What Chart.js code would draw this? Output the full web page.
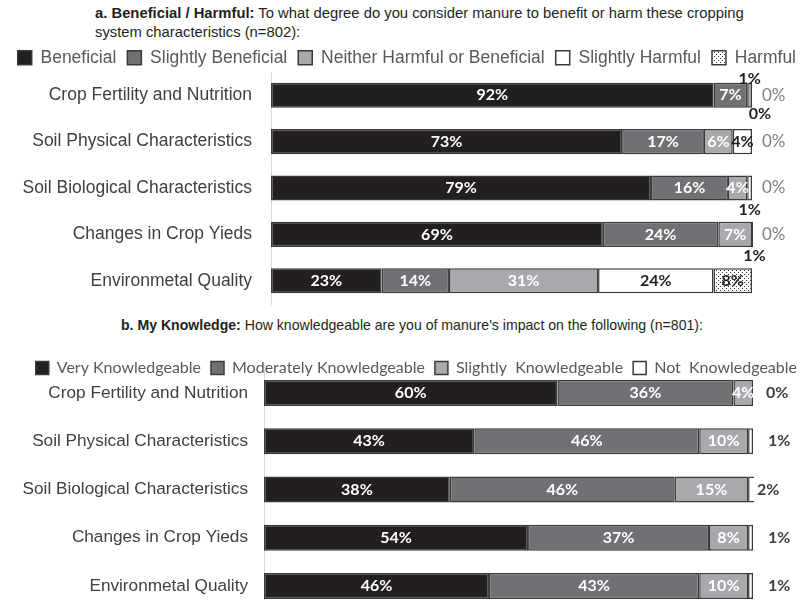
<!DOCTYPE html>
<html>
<head>
<meta charset="utf-8">
<script src="https://cdn.jsdelivr.net/npm/chart.js@4"></script>
<style>
html, body { margin: 0; padding: 0; background: #fff; }
body { width: 807px; height: 600px; overflow: hidden; position: relative; font-family: 'Liberation Sans', Arial, sans-serif; color: #231f20; }
.title { position: absolute; line-height: 19px; white-space: nowrap; }
#titleA { left: 95px; top: 4px; font-size: 14.8px; }
#titleB { left: 121px; top: 316px; font-size: 14.1px; }
#boxA { position: absolute; left: 0; top: 38px; width: 807px; height: 270px; }
#boxB { position: absolute; left: 0; top: 350px; width: 807px; height: 262px; }
canvas { display: block; }
</style>
</head>
<body>
<div class="title" id="titleA"><b>a. Beneficial / Harmful:</b> To what degree do you consider manure to benefit or harm these cropping<br>system characteristics (n=802):</div>
<div class="title" id="titleB"><b>b. My Knowledge:</b> How knowledgeable are you of manure's impact on the following (n=801):</div>
<div id="boxA"><canvas id="chartA" width="807" height="270" style="width:807px;height:270px"></canvas></div>
<div id="boxB"><canvas id="chartB" width="807" height="262" style="width:807px;height:262px"></canvas></div>
<script>
'use strict';

// Row labels (same for both charts)
const categories = [
    'Crop Fertility and Nutrition',
    'Soil Physical Characteristics',
    'Soil Biological Characteristics',
    'Changes in Crop Yieds',
    'Environmetal Quality'
];

// a. Beneficial / Harmful (%)
const seriesA = ['Beneficial', 'Slightly Beneficial', 'Neither Harmful or Beneficial', 'Slightly Harmful', 'Harmful'];
const beneficial = [92, 73, 79, 69, 23];
const slightlyBeneficial = [7, 17, 16, 24, 14];
const neither = [1, 6, 4, 7, 31];
const slightlyHarmful = [0, 4, 1, 1, 24];
const harmful = [0, 0, 0, 0, 8];

// b. My Knowledge (%)
const seriesB = ['Very Knowledgeable', 'Moderately Knowledgeable', 'Slightly  Knowledgeable', 'Not  Knowledgeable'];
const veryKnowledgeable = [60, 43, 38, 54, 46];
const moderatelyKnowledgeable = [36, 46, 46, 37, 43];
const slightlyKnowledgeable = [4, 10, 15, 8, 10];
const notKnowledgeable = [0, 1, 2, 1, 1];

const DARK = '#231f20';
const MID = '#707174';
const LIGHT = '#a7a9ac';

// stipple fill for "Harmful"
function dotPattern() {
    const c = document.createElement('canvas');
    c.width = 4;
    c.height = 4;
    const g = c.getContext('2d');
    g.fillStyle = '#fff';
    g.fillRect(0, 0, 4, 4);
    g.fillStyle = '#333';
    g.fillRect(0, 0, 1, 1);
    g.fillRect(2, 2, 1, 1);
    return g.createPattern(c, 'repeat');
}

// labels that sit outside their segment, keyed 'dataset,row'
const placesA = {
    '2,0': { pos: 'above' },
    '3,0': { pos: 'below', dx: 8, dy: 6 },
    '4,0': { pos: 'right' },
    '4,1': { pos: 'right' },
    '3,2': { pos: 'below' },
    '4,2': { pos: 'right' },
    '3,3': { pos: 'below' },
    '4,3': { pos: 'right' }
};
const placesB = {
    '3,0': { pos: 'right', dx: 13 },
    '3,1': { pos: 'right', dx: 15 },
    '3,2': { pos: 'right', dx: 4 },
    '3,3': { pos: 'right', dx: 15 },
    '3,4': { pos: 'right', dx: 15 }
};

// draws the percent labels on / around each segment
const barLabels = {
    id: 'barLabels',
    afterDatasetsDraw(chart, args, opts) {
        const ctx = chart.ctx;
        ctx.save();
        ctx.textBaseline = 'middle';
        chart.data.datasets.forEach((ds, di) => {
            const meta = chart.getDatasetMeta(di);
            meta.data.forEach((bar, i) => {
                const text = ds.data[i] + '%';
                const p = bar.getProps(['x', 'y', 'base', 'height'], true);
                const place = opts.places[di + ',' + i];
                let x = (p.x + p.base) / 2;
                let y = p.y;
                ctx.textAlign = 'center';
                ctx.font = opts.font;
                ctx.fillStyle = opts.colors[di];
                if (place) {
                    if (place.pos === 'above') {
                        y = p.y - p.height / 2 - 4;
                        ctx.fillStyle = opts.outsideColor;
                    } else if (place.pos === 'below') {
                        y = p.y + p.height / 2 + (place.dy !== undefined ? place.dy : 9);
                        ctx.fillStyle = opts.outsideColor;
                    } else {
                        x = chart.chartArea.right + (place.dx !== undefined ? place.dx : 10);
                        ctx.textAlign = 'left';
                        ctx.font = opts.rightFont;
                        ctx.fillStyle = opts.rightColor;
                    }
                    x += place.dx && place.pos !== 'right' ? place.dx : 0;
                }
                ctx.fillText(text, x, y);
            });
        });
        ctx.restore();
    }
};

// let the plot area start right under (or into) the legend row
function legendHeight(h) {
    return {
        id: 'legendHeight',
        beforeLayout(chart) {
            const legend = chart.legend;
            if (!legend || legend._fixed) return;
            const fit = legend.fit;
            legend.fit = function () {
                fit.call(this);
                this.height = h;
            };
            // the shortened box must not cut the legend text
            if (typeof legend._draw === 'function') {
                legend.draw = function () {
                    if (this.options.display) this._draw();
                };
            }
            legend._fixed = true;
        }
    };
}

function makeDataset(label, data, color) {
    return {
        label: label,
        data: data,
        backgroundColor: color,
        borderColor: '#3a3a3a',
        borderWidth: 1.5,
        borderSkipped: false,
        categoryPercentage: 0.54,
        barPercentage: 1,
        clip: 1
    };
}

// fixed axis width, and no extra label padding above / below the plot
function fixWidth(w) {
    return (scale) => {
        scale.width = w;
        scale.paddingTop = 0;
        scale.paddingBottom = 0;
    };
}

function buildOptions(cfg) {
    return {
        indexAxis: 'y',
        responsive: false,
        animation: false,
        layout: { padding: { left: 0, right: 0, top: 0, bottom: cfg.bottom } },
        plugins: {
            legend: {
                display: true,
                position: 'top',
                align: 'end',
                labels: {
                    color: '#595959',
                    font: cfg.legendFont,
                    boxWidth: cfg.box,
                    boxHeight: cfg.box,
                    padding: cfg.legendPadding
                }
            },
            tooltip: { enabled: false },
            barLabels: cfg.labels
        },
        scales: {
            x: { stacked: true, min: 0, max: 100, display: false },
            y: {
                stacked: true,
                grid: { display: false, drawTicks: false },
                border: { display: true, color: '#d9d9d9', width: 1 },
                ticks: { color: '#404040', font: cfg.tickFont, padding: cfg.tickPadding },
                afterFit: fixWidth(cfg.left)
            },
            // empty strip on the right that holds the outside labels
            yRight: {
                type: 'category',
                position: 'right',
                grid: { display: false, drawTicks: false },
                border: { display: false },
                ticks: { display: false },
                afterFit: fixWidth(cfg.right)
            }
        }
    };
}

const harmfulFill = dotPattern();

new Chart(document.getElementById('chartA'), {
    type: 'bar',
    data: {
        labels: categories,
        datasets: [
            makeDataset(seriesA[0], beneficial, DARK),
            makeDataset(seriesA[1], slightlyBeneficial, MID),
            makeDataset(seriesA[2], neither, LIGHT),
            makeDataset(seriesA[3], slightlyHarmful, '#ffffff'),
            makeDataset(seriesA[4], harmful, harmfulFill)
        ]
    },
    options: buildOptions({
        left: 271, right: 55, bottom: 4,
        legendFont: { family: "'Liberation Sans', Arial, sans-serif", size: 17.5 },
        box: 14, legendPadding: 11,
        tickFont: { family: "'Liberation Sans', Arial, sans-serif", size: 17.5 },
        tickPadding: 19,
        labels: {
            places: placesA,
            font: 'bold 16px Lato',
            colors: ['#fff', '#fff', '#fff', DARK, DARK],
            outsideColor: DARK,
            rightFont: '17px Lato',
            rightColor: '#808080'
        }
    }),
    plugins: [barLabels, legendHeight(34)]
});

new Chart(document.getElementById('chartB'), {
    type: 'bar',
    data: {
        labels: categories,
        datasets: [
            makeDataset(seriesB[0], veryKnowledgeable, DARK),
            makeDataset(seriesB[1], moderatelyKnowledgeable, MID),
            makeDataset(seriesB[2], slightlyKnowledgeable, LIGHT),
            makeDataset(seriesB[3], notKnowledgeable, '#ffffff')
        ]
    },
    options: buildOptions({
        left: 264, right: 54, bottom: 2,
        legendFont: { family: 'Lato', size: 16 },
        box: 13, legendPadding: 10,
        tickFont: { family: "'Liberation Sans', Arial, sans-serif", size: 17.2 },
        tickPadding: 16,
        labels: {
            places: placesB,
            font: 'bold 16px Lato',
            colors: ['#fff', '#fff', '#fff', DARK],
            outsideColor: DARK,
            rightFont: 'bold 16px Lato',
            rightColor: '#404040'
        }
    }),
    plugins: [barLabels, legendHeight(19)]
});
</script>
</body>
</html>
